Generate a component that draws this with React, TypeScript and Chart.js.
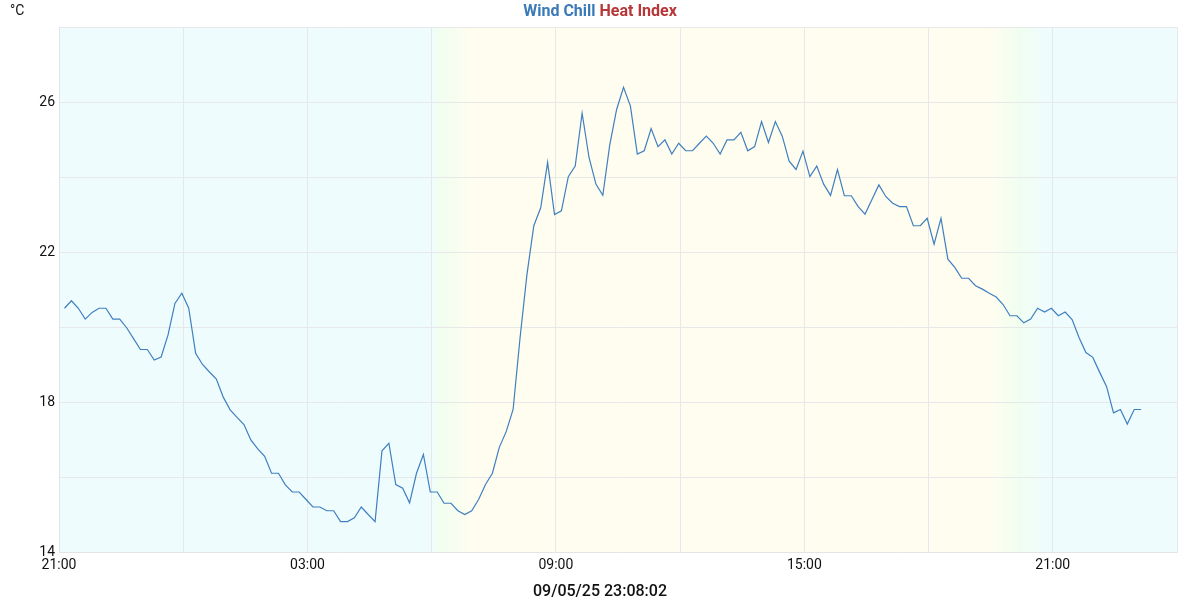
import React, { useEffect, useRef } from "react";
import { Chart, registerables } from "chart.js";

Chart.register(...registerables);

// Sampling: first reading at 21:08, one reading every 10 minutes (hours after 21:00)
const SAMPLE_START_HOURS = 8 / 60;
const SAMPLE_STEP_HOURS = 10 / 60;

// Wind chill readings (°C)
const windChill: number[] = [
  20.5, 20.7, 20.5, 20.21, 20.39, 20.5, 20.5, 20.21, 20.21, 19.98,
  19.69, 19.4, 19.4, 19.12, 19.2, 19.79, 20.63, 20.9, 20.5, 19.3,
  19.0, 18.8, 18.61, 18.13, 17.79, 17.59, 17.4, 16.99, 16.75, 16.55,
  16.1, 16.1, 15.79, 15.6, 15.6, 15.4, 15.2, 15.2, 15.1, 15.1,
  14.81, 14.81, 14.91, 15.2, 15.0, 14.81, 16.7, 16.9, 15.8, 15.7,
  15.31, 16.1, 16.6, 15.6, 15.6, 15.3, 15.3, 15.1, 15.0, 15.1,
  15.4, 15.8, 16.1, 16.79, 17.21, 17.8, 19.7, 21.39, 22.7, 23.18,
  24.39, 23.0, 23.1, 24.01, 24.29, 25.7, 24.52, 23.81, 23.51, 24.85,
  25.8, 26.39, 25.89, 24.61, 24.7, 25.29, 24.81, 24.99, 24.61, 24.9,
  24.7, 24.7, 24.9, 25.09, 24.9, 24.61, 24.99, 24.99, 25.19, 24.7,
  24.81, 25.48, 24.92, 25.48, 25.09, 24.42, 24.2, 24.69, 24.01, 24.29,
  23.81, 23.51, 24.2, 23.5, 23.5, 23.21, 23.01, 23.4, 23.79, 23.48,
  23.3, 23.21, 23.21, 22.7, 22.7, 22.9, 22.21, 22.9, 21.81, 21.59,
  21.3, 21.3, 21.1, 21.01, 20.9, 20.8, 20.6, 20.3, 20.3, 20.11,
  20.21, 20.5, 20.4, 20.5, 20.3, 20.4, 20.2, 19.72, 19.32, 19.19,
  18.79, 18.41, 17.71, 17.8, 17.41, 17.8, 17.8,
];

// Axis ticks
const X_START_CLOCK_HOUR = 21; // axis starts at 21:00
const X_SPAN_HOURS = 27;
const X_GRID_STEP = 3;
const X_LABEL_STEP = 6;
const Y_MIN = 14;
const Y_MAX = 28;
const Y_GRID_STEP = 2;
const Y_LABEL_STEP = 4;

// Day / night shading (hours after 21:00)
const DAWN_START = 9.0;
const DAWN_END = 10.0;
const DUSK_START = 22.5;
const DUSK_END = 23.85;

const TITLE_PARTS = ["Wind Chill", "Heat Index"];
const TITLE_COLORS = ["#3b7ab8", "#b73637"];
const Y_UNIT = "°C";
const TIMESTAMP = "09/05/25 23:08:02";

const NIGHT = "#effcfe";
const TWILIGHT = "#f0fef0";
const DAY = "#fffdf0";

export default function App() {
  const ref = useRef<HTMLCanvasElement | null>(null);

  useEffect(() => {
    const canvas = ref.current;
    if (!canvas) return;
    document.body.style.margin = "0";

    const points = windChill.map((v, i) => ({
      x: SAMPLE_START_HOURS + i * SAMPLE_STEP_HOURS,
      y: v,
    }));

    const bgPlugin = {
      id: "bands",
      beforeDraw(chart: any) {
        const { ctx, chartArea: a, scales } = chart;
        const xs = scales.x;
        const px = (h: number) => xs.getPixelForValue(h);
        ctx.save();
        ctx.fillStyle = NIGHT;
        ctx.fillRect(a.left, a.top, a.right - a.left, a.bottom - a.top);
        const d0 = px(DAWN_START), d1 = px(DAWN_END), s0 = px(DUSK_START), s1 = px(DUSK_END);
        let g = ctx.createLinearGradient(d0, 0, d1, 0);
        g.addColorStop(0, NIGHT);
        g.addColorStop(0.15, TWILIGHT);
        g.addColorStop(1, DAY);
        ctx.fillStyle = g;
        ctx.fillRect(d0, a.top, d1 - d0, a.bottom - a.top);
        ctx.fillStyle = DAY;
        ctx.fillRect(d1, a.top, s0 - d1, a.bottom - a.top);
        g = ctx.createLinearGradient(s0, 0, s1, 0);
        g.addColorStop(0, DAY);
        g.addColorStop(0.5, TWILIGHT);
        g.addColorStop(1, NIGHT);
        ctx.fillStyle = g;
        ctx.fillRect(s0, a.top, s1 - s0, a.bottom - a.top);
        ctx.restore();
      },
      afterDraw(chart: any) {
        const { ctx } = chart;
        ctx.save();
        ctx.font = "bold 16px Roboto";
        ctx.textBaseline = "middle";
        const space = ctx.measureText(" ").width;
        const widths = TITLE_PARTS.map((t) => ctx.measureText(t).width);
        const total = widths.reduce((s, w) => s + w, 0) + space * (TITLE_PARTS.length - 1);
        let x = chart.width / 2 - total / 2;
        TITLE_PARTS.forEach((t, i) => {
          ctx.fillStyle = TITLE_COLORS[i];
          ctx.textAlign = "left";
          ctx.fillText(t, x, 12);
          x += widths[i] + space;
        });
        ctx.font = "14px Roboto";
        ctx.fillStyle = "#111";
        ctx.textAlign = "left";
        ctx.fillText(Y_UNIT, 10, 11);
        ctx.font = "500 16px Roboto";
        ctx.textAlign = "center";
        ctx.fillText(TIMESTAMP, chart.width / 2, 592);
        ctx.restore();
      },
    };

    const chart = new Chart(canvas, {
      type: "line",
      data: {
        datasets: [
          {
            label: TITLE_PARTS[0],
            data: points,
            borderColor: "#3f7fbf",
            borderWidth: 1.2,
            pointRadius: 0,
            tension: 0,
            fill: false,
          },
        ],
      },
      options: {
        animation: false,
        responsive: false,
        devicePixelRatio: 1,
        layout: { padding: { top: 27, right: 23, left: 0, bottom: 0 } },
        plugins: {
          legend: { display: false },
          title: { display: false },
          tooltip: { enabled: false },
        },
        scales: {
          x: {
            type: "linear",
            min: 0,
            max: X_SPAN_HOURS,
            afterFit(scale: any) {
              scale.height = 48;
            },
            afterBuildTicks(scale: any) {
              const t = [];
              for (let v = 0; v <= X_SPAN_HOURS; v += X_GRID_STEP) t.push({ value: v });
              scale.ticks = t;
            },
            ticks: {
              autoSkip: false,
              maxRotation: 0,
              padding: 5,
              color: "#111",
              font: { family: "Roboto", size: 14 },
              callback(value: any) {
                const v = Number(value);
                if (v % X_LABEL_STEP !== 0) return "";
                const h = (X_START_CLOCK_HOUR + v) % 24;
                return String(h).padStart(2, "0") + ":00";
              },
            },
            grid: { color: "#e6e8ea", lineWidth: 1, drawTicks: false },
            border: { color: "#e2e4e6" },
          },
          y: {
            type: "linear",
            min: Y_MIN,
            max: Y_MAX,
            afterFit(scale: any) {
              scale.width = 59;
            },
            ticks: {
              stepSize: Y_GRID_STEP,
              autoSkip: false,
              padding: 4,
              color: "#111",
              font: { family: "Roboto", size: 14 },
              callback(value: any) {
                const v = Number(value);
                return (v - Y_MIN) % Y_LABEL_STEP === 0 ? String(v) : "";
              },
            },
            grid: { color: "#e6e8ea", lineWidth: 1, drawTicks: false },
            border: { color: "#e2e4e6" },
          },
        },
      },
      plugins: [bgPlugin],
    } as any);

    return () => chart.destroy();
  }, []);

  return (
    <div style={{ position: "absolute", left: 0, top: 0, width: 1200, height: 600 }}>
      <canvas ref={ref} width={1200} height={600} style={{ display: "block" }} />
    </div>
  );
}
